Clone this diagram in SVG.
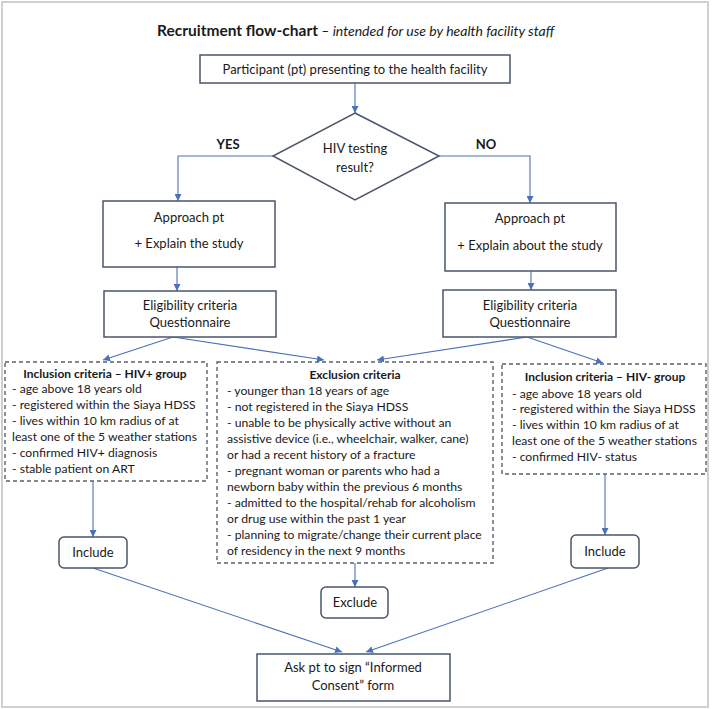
<svg xmlns="http://www.w3.org/2000/svg" width="713" height="709" viewBox="0 0 713 709">
<style>
text{font-family:Lato,"Liberation Sans",sans-serif;fill:#1a1a1a;font-size:13px}
.c{text-anchor:middle}
.b{font-weight:bold}
.box{fill:#fff;stroke:#4a5568;stroke-width:1.5}
.dash{fill:#fff;stroke:#5a6270;stroke-width:1.4;stroke-dasharray:4 3}
.rnd{fill:#fff;stroke:#4a5568;stroke-width:1.5}
.con{fill:none;stroke:#4a72b8;stroke-width:1.1;marker-end:url(#ah)}
.li{font-size:12.2px}
.hd{font-size:12px}
</style>
<defs>
<marker id="ah" viewBox="0 0 10 10" refX="10" refY="5" markerWidth="7" markerHeight="7" markerUnits="userSpaceOnUse" orient="auto">
<path d="M0,0 L10,5 L0,10 z" fill="#4a72b8"/>
</marker>
</defs>
<rect x="0" y="0" width="713" height="709" fill="#fff"/>
<rect x="2" y="2" width="706" height="705" fill="none" stroke="#cfcfcf" stroke-width="2"/>
<g id="title">
<text x="157" y="36"><tspan class="b" font-size="15.5px">Recruitment flow-chart</tspan><tspan font-style="italic" font-size="14px"> – intended for use by health facility staff</tspan></text>
</g>
<g id="connectors">
<line class="con" x1="355" y1="83" x2="355" y2="113"/>
<polyline class="con" points="273,156 178,156 178,201"/>
<polyline class="con" points="439,156 530,156 530,203"/>
<line class="con" x1="177" y1="267" x2="177" y2="291"/>
<line class="con" x1="531" y1="271" x2="531" y2="290"/>
<line class="con" x1="173" y1="337" x2="103" y2="360"/>
<line class="con" x1="173" y1="337" x2="324" y2="360"/>
<line class="con" x1="527" y1="337" x2="377" y2="360"/>
<line class="con" x1="527" y1="337" x2="603" y2="363"/>
<line class="con" x1="93" y1="481" x2="93" y2="537"/>
<line class="con" x1="355" y1="563" x2="355" y2="587"/>
<line class="con" x1="605" y1="474" x2="605" y2="535"/>
<line class="con" x1="93" y1="568" x2="342" y2="652"/>
<line class="con" x1="608" y1="568" x2="366" y2="652"/>
</g>
<g id="participant">
<rect class="box" x="200" y="55" width="310" height="28"/>
<text class="c" x="355" y="73.5">Participant (pt) presenting to the health facility</text>
</g>
<g id="decision">
<polygon class="box" points="355,113 439,156 355,200 273,156"/>
<text class="c" x="355" y="153">HIV testing</text>
<text class="c" x="355" y="172">result?</text>
</g>
<g id="label-yes"><text class="c b" x="228" y="149" font-size="12px">YES</text></g>
<g id="label-no"><text class="c b" x="486" y="149" font-size="12px">NO</text></g>
<g id="approach-left">
<rect class="box" x="103" y="201" width="172" height="66"/>
<text class="c" x="189" y="222">Approach pt</text>
<text class="c" x="189" y="248">+ Explain the study</text>
</g>
<g id="approach-right">
<rect class="box" x="445" y="203" width="171" height="68"/>
<text class="c" x="530" y="223">Approach pt</text>
<text class="c" x="530" y="250">+ Explain about the study</text>
</g>
<g id="eligibility-left">
<rect class="box" x="104" y="291" width="172" height="46"/>
<text class="c" x="190" y="310">Eligibility criteria</text>
<text class="c" x="190" y="327">Questionnaire</text>
</g>
<g id="eligibility-right">
<rect class="box" x="443" y="290" width="173" height="47"/>
<text class="c" x="530" y="310">Eligibility criteria</text>
<text class="c" x="530" y="327">Questionnaire</text>
</g>
<g id="inclusion-hiv-pos">
<rect class="dash" x="5" y="362" width="202" height="119"/>
<text class="c b hd" x="105" y="378">Inclusion criteria – HIV+ group</text>
<text class="li" x="12" y="393">- age above 18 years old</text>
<text class="li" x="12" y="409">- registered within the Siaya HDSS</text>
<text class="li" x="12" y="425">- lives within 10 km radius of at</text>
<text class="li" x="12" y="441">least one of the 5 weather stations</text>
<text class="li" x="12" y="457">- confirmed HIV+ diagnosis</text>
<text class="li" x="12" y="473">- stable patient on ART</text>
</g>
<g id="exclusion">
<rect class="dash" x="217" y="362" width="276" height="201"/>
<text class="c b hd" x="355" y="379">Exclusion criteria</text>
<text class="li" x="227" y="395">- younger than 18 years of age</text>
<text class="li" x="227" y="411">- not registered in the Siaya HDSS</text>
<text class="li" x="227" y="427">- unable to be physically active without an</text>
<text class="li" x="227" y="443">assistive device (i.e., wheelchair, walker, cane)</text>
<text class="li" x="227" y="459">or had a recent history of a fracture</text>
<text class="li" x="227" y="475">- pregnant woman or parents who had a</text>
<text class="li" x="227" y="491">newborn baby within the previous 6 months</text>
<text class="li" x="227" y="507">- admitted to the hospital/rehab for alcoholism</text>
<text class="li" x="227" y="523">or drug use within the past 1 year</text>
<text class="li" x="227" y="539">- planning to migrate/change their current place</text>
<text class="li" x="227" y="555">of residency in the next 9 months</text>
</g>
<g id="inclusion-hiv-neg">
<rect class="dash" x="502" y="364" width="204" height="110"/>
<text class="c b hd" x="605" y="381">Inclusion criteria – HIV- group</text>
<text class="li" x="512" y="398">- age above 18 years old</text>
<text class="li" x="512" y="413">- registered within the Siaya HDSS</text>
<text class="li" x="512" y="429">- lives within 10 km radius of at</text>
<text class="li" x="512" y="445">least one of the 5 weather stations</text>
<text class="li" x="512" y="461">- confirmed HIV- status</text>
</g>
<g id="include-left">
<rect class="rnd" x="59" y="537" width="68" height="31" rx="5"/>
<text class="c" x="93" y="557">Include</text>
</g>
<g id="exclude">
<rect class="rnd" x="321" y="587" width="67" height="31" rx="5"/>
<text class="c" x="355" y="607">Exclude</text>
</g>
<g id="include-right">
<rect class="rnd" x="571" y="535" width="68" height="33" rx="5"/>
<text class="c" x="605" y="556">Include</text>
</g>
<g id="consent">
<rect class="box" x="257" y="654" width="193" height="47"/>
<text class="c" x="353" y="672">Ask pt to sign “Informed</text>
<text class="c" x="353" y="690">Consent” form</text>
</g>
</svg>
